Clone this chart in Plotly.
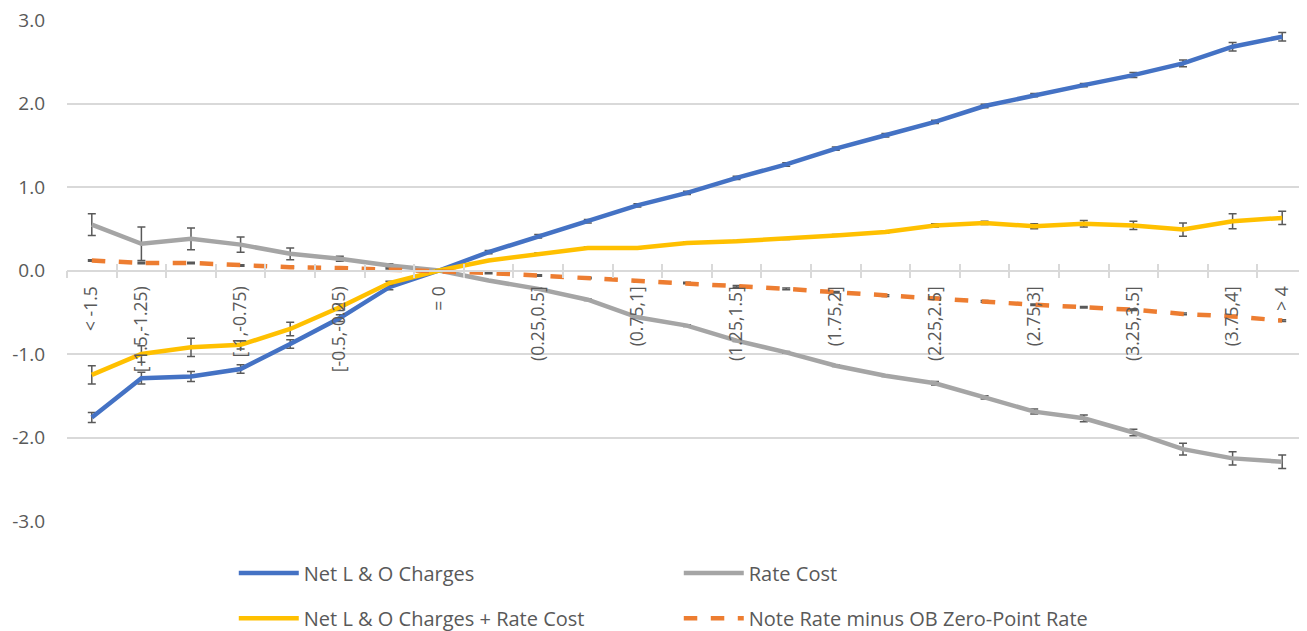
import plotly.graph_objects as go

categories = ["< -1.5", "[-1.5,-1.25)", "[-1.25,-1)", "[-1,-0.75)", "[-0.75,-0.5)",
              "[-0.5,-0.25)", "[-0.25,0)", "= 0", "(0,0.25]", "(0.25,0.5]",
              "(0.5,0.75]", "(0.75,1]", "(1,1.25]", "(1.25,1.5]", "(1.5,1.75]",
              "(1.75,2]", "(2,2.25]", "(2.25,2.5]", "(2.5,2.75]", "(2.75,3]",
              "(3,3.25]", "(3.25,3.5]", "(3.5,3.75]", "(3.75,4]", "> 4"]
shown_labels = ["< -1.5", "[-1.5,-1.25)", "", "[-1,-0.75)", "", "[-0.5,-0.25)", "", "= 0", "",
                "(0.25,0.5]", "", "(0.75,1]", "", "(1.25,1.5]", "", "(1.75,2]", "",
                "(2.25,2.5]", "", "(2.75,3]", "", "(3.25,3.5]", "", "(3.75,4]", "> 4"]
y_tick_vals = [-3, -2, -1, 0, 1, 2, 3]
y_tick_text = ["-3.0", "-2.0", "-1.0", "0.0", "1.0", "2.0", "3.0"]

net_lo = [-1.76, -1.29, -1.27, -1.18, -0.88, -0.57, -0.20, 0.0, 0.22, 0.41, 0.59, 0.78, 0.93,
          1.11, 1.27, 1.46, 1.62, 1.78, 1.97, 2.10, 2.22, 2.34, 2.48, 2.68, 2.80]
net_lo_err = [0.06, 0.07, 0.06, 0.05, 0.05, 0.04, 0.03, 0.0, 0.02, 0.02, 0.02, 0.02, 0.02,
              0.02, 0.02, 0.02, 0.02, 0.02, 0.02, 0.02, 0.02, 0.03, 0.04, 0.05, 0.05]

rate_cost = [0.55, 0.32, 0.38, 0.31, 0.20, 0.14, 0.06, 0.0, -0.12, -0.22, -0.35, -0.56, -0.66,
             -0.84, -0.98, -1.14, -1.26, -1.35, -1.52, -1.69, -1.77, -1.94, -2.14, -2.25, -2.29]
rate_cost_err = [0.13, 0.20, 0.13, 0.09, 0.07, 0.03, 0.02, 0.0, 0.01, 0.01, 0.01, 0.01, 0.01,
                 0.01, 0.01, 0.01, 0.01, 0.02, 0.02, 0.03, 0.04, 0.04, 0.07, 0.08, 0.08]

net_plus_rate = [-1.25, -1.00, -0.92, -0.89, -0.70, -0.44, -0.15, 0.0, 0.12, 0.20, 0.27, 0.27, 0.33,
                 0.35, 0.38, 0.42, 0.46, 0.54, 0.57, 0.53, 0.56, 0.54, 0.49, 0.59, 0.63]
net_plus_rate_err = [0.11, 0.10, 0.11, 0.05, 0.08, 0.04, 0.02, 0.0, 0.01, 0.01, 0.01, 0.01, 0.01,
                     0.01, 0.01, 0.01, 0.01, 0.02, 0.02, 0.03, 0.04, 0.05, 0.08, 0.09, 0.08]

note_rate = [0.12, 0.09, 0.09, 0.06, 0.04, 0.03, 0.01, 0.0, -0.03, -0.06, -0.09, -0.13, -0.15,
             -0.19, -0.22, -0.26, -0.30, -0.33, -0.37, -0.41, -0.44, -0.47, -0.52, -0.55, -0.60]
note_rate_err = [0.01, 0.01, 0.01, 0.01, 0.01, 0.01, 0.01, 0.0, 0.01, 0.01, 0.01, 0.01, 0.01,
                 0.01, 0.01, 0.01, 0.01, 0.01, 0.01, 0.01, 0.01, 0.01, 0.01, 0.01, 0.01]

FONT = "Open Sans"
TXT = "#595959"
GRID = "#d9d9d9"
ERR = "#595959"

series = [
    ("Net L & O Charges", net_lo, net_lo_err, "#4472C4", "solid", "legend"),
    ("Rate Cost", rate_cost, rate_cost_err, "#A5A5A5", "solid", "legend"),
    ("Net L & O Charges + Rate Cost", net_plus_rate, net_plus_rate_err, "#FFC000", "solid", "legend2"),
    ("Note Rate minus OB Zero-Point Rate", note_rate, note_rate_err, "#ED7D31", "dash", "legend2"),
]

fig = go.Figure()
for name, vals, errs, color, dash, leg in series:
    fig.add_trace(go.Scatter(
        x=categories, y=vals, name=name, mode="lines",
        line=dict(color=color, width=4.5, dash=dash),
        error_y=dict(type="data", array=errs, visible=True, color=ERR, thickness=1.5, width=4),
        legend=leg,
    ))

# invisible trace to carry the second (inside-tick) x axis
fig.add_trace(go.Scatter(x=categories, y=[None] * len(categories), xaxis="x2",
                         showlegend=False, hoverinfo="skip", mode="lines"))

legend_common = dict(orientation="h", font=dict(family=FONT, size=20, color=TXT),
                     entrywidth=370, entrywidthmode="pixels", itemwidth=60,
                     xanchor="left", yanchor="middle", bgcolor="rgba(0,0,0,0)")

fig.update_layout(
    width=1307, height=631,
    margin=dict(l=59, r=8, t=12, b=118, autoexpand=False),
    paper_bgcolor="white", plot_bgcolor="white",
    font=dict(family=FONT, color=TXT),
    showlegend=True,
    legend=dict(x=0.1345, y=-0.104, **legend_common),
    legend2=dict(x=0.1345, y=-0.194, **legend_common),
    xaxis=dict(
        type="category", categoryorder="array", categoryarray=categories,
        range=[-0.5, len(categories) - 0.5], automargin=False,
        anchor="free", position=0.5,
        showline=True, linecolor=GRID, linewidth=1.5,
        ticks="outside", tickson="boundaries", ticklen=7, tickcolor=GRID, tickwidth=1.5,
        tickmode="array", tickvals=categories, ticktext=shown_labels,
        tickangle=-90, tickfont=dict(family=FONT, size=17.5, color=TXT),
        ticklabelstandoff=8,
        showgrid=False, zeroline=False,
    ),
    xaxis2=dict(
        type="category", categoryorder="array", categoryarray=categories,
        range=[-0.5, len(categories) - 0.5], automargin=False,
        overlaying="x", anchor="free", position=0.5,
        showline=False,
        ticks="inside", tickson="boundaries", ticklen=7, tickcolor=GRID, tickwidth=1.5,
        tickmode="array", tickvals=categories, showticklabels=False,
        showgrid=False, zeroline=False,
    ),
    yaxis=dict(
        range=[-3, 3], automargin=False,
        tickmode="array", tickvals=y_tick_vals, ticktext=y_tick_text,
        showgrid=True, gridcolor=GRID, gridwidth=1.5,
        zeroline=False, showline=False, ticks="",
        tickfont=dict(family=FONT, size=19, color=TXT),
        ticklabelstandoff=21, ticklabeloverflow="allow",
    ),
)

fig.write_html("out.html")
